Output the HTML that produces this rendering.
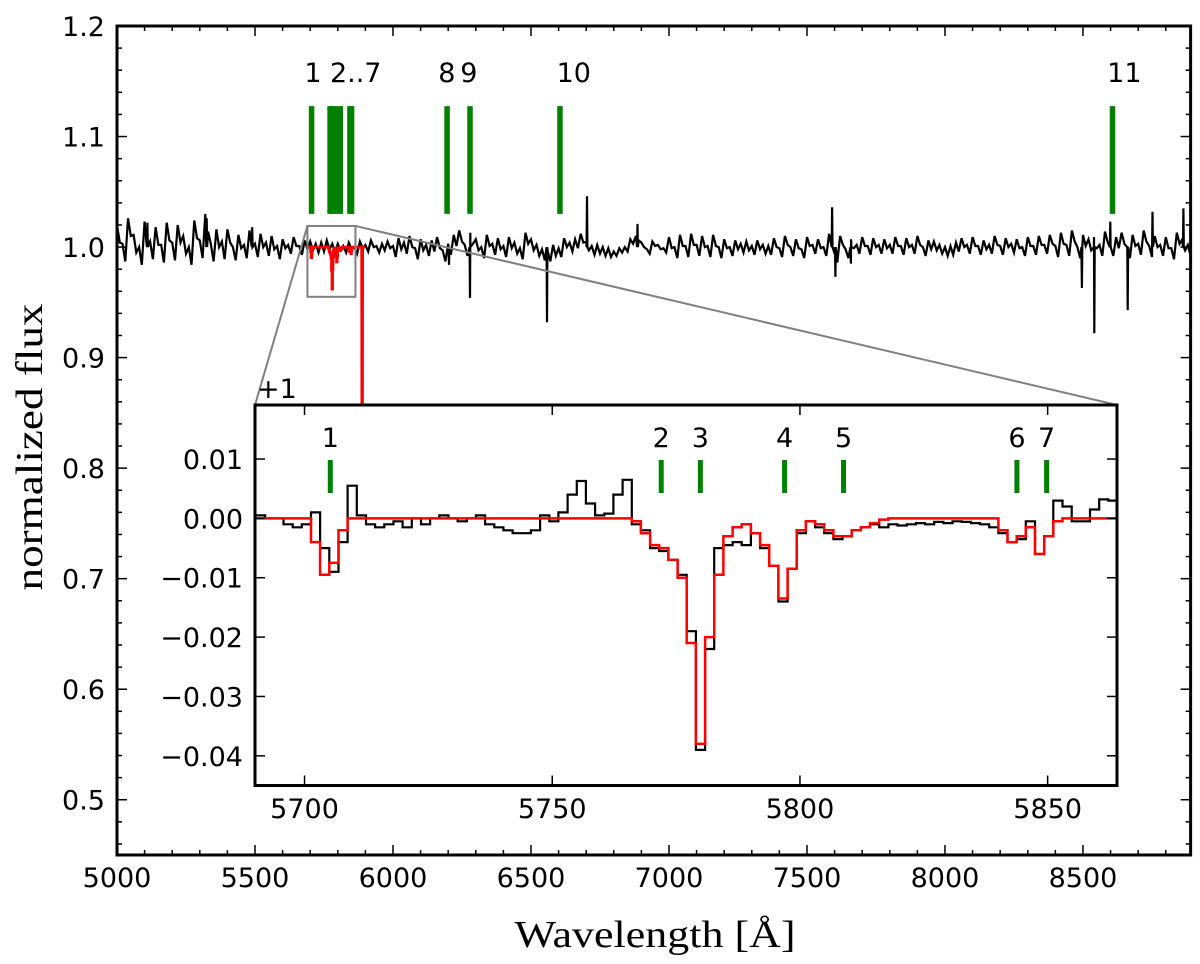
<!DOCTYPE html>
<html><head><meta charset="utf-8"><style>
html,body{margin:0;padding:0;background:#fff;overflow:hidden;}
svg{display:block;}
text{font-family:"DejaVu Sans","Liberation Sans",sans-serif;font-size:27px;fill:#000;}
text.serif{font-family:"Liberation Serif","DejaVu Serif",serif;font-size:38px;}
</style></head><body>
<svg id="chart" width="1200" height="964" viewBox="0 0 1200 964" xmlns="http://www.w3.org/2000/svg">
<defs><clipPath id="mainClip"><rect x="117" y="26" width="1073.6" height="829"/></clipPath>
<clipPath id="insetClip"><rect x="255" y="405" width="862" height="380.5"/></clipPath></defs>
<g id="main"></g>
<g id="inset"></g>
</svg>
<script>
// ---- main spectrum data (deviation from 1, in 1e-3), 20 A bins from 5000 ----
const mainStart = 5000;
const mainStep = 20;
const mainCenter = [
12,-5,18,3,-8,15,-3,10,-6,14,
-4,12,2,-8,16,-2,22,-5,8,-3,
10,-6,5,-4,9,-3,6,-2,4,-5,
3,-2,5,-3,2,1,-1,0,2,-1,
0,-2,1,-3,2,-1,3,-2,0,2,
-4,3,-1,5,-6,2,-3,1,4,-8,
-2,6,10,-3,8,2,-5,6,-2,3,
-4,4,-1,-6,8,2,-3,-7,-8,-3,
-5,4,0,3,8,1,-3,-2,-4,-5,
-6,-3,-2,5,8,2,-4,3,0,-3,
4,-5,6,-4,7,-3,5,-4,6,-5,
3,-4,2,-1,1,-3,2,-2,-3,4,
-5,6,-4,3,-6,5,-2,3,-4,8,
-10,6,-6,3,-2,5,-3,4,-2,3,
-2,5,-3,4,-2,6,-4,2,1,-2,
-4,-3,0,4,-2,5,-3,2,-2,6,
-3,4,-1,3,-4,5,-3,6,-2,7,
-4,8,-3,10,-5,6,2,4,-3,9,
-3,4,8,-5,6,-2,10,-4,5,-3,
4,-6,8,2,-3];
const mainAmpBlocks = [8,8,6,4,3,5,5,5,4,2,5,4,4,4,4,4,4,5,5,5];
const spikeLambda = [5110,5325,5490,6203,6279,6558,6703,6886,7591,7603,7659,8496,8541,8599,8662,8752,8864];
const spikeFlux =   [1.022,1.026,1.018,0.984,0.954,0.932,1.046,1.021,1.036,0.973,0.985,0.963,0.922,1.023,0.943,1.032,1.035];
// ---- model / inset data (1e-3), bins ----
const binStart = 5690.2;
const binWidth = 1.85;
const modelFlux = [0,0,0,0,0,0,-4,-9.5,-7.5,-2,
0,0,0,0,0,0,0,0,0,0,0,0,0,0,0,0,0,0,0,0,0,0,0,0,0,0,0,0,0,0,0,
-0.5,-2.5,-4.5,-5,-7,-10,-21,-38,-20,-9.5,-3,-1.5,-1,-2.5,-4.5,-8,-13.5,-8.5,-2,-0.5,-1,-2,-3,-3,-2,-1.5,-0.8,-0.2,
0,0,0,0,0,0,0,0,0,0,0,0,
-2,-4,-3,-1.5,-6,-3,-0.5,
0,0,0,0,0,0,0];
const obsFlux = [0.5,0,0,-1,-1.5,-1,1,-5,-9,-4,5.5,0.5,-1,-1.5,-1,-0.5,-1.5,0,-1,0,0.5,0,-0.5,0,0.5,-1,-1.5,-2,-2.5,-2.5,-2,0.5,-0.5,1,4,6.3,2.5,0.5,0.8,4,6.5,-1,-2,-5,-5.5,-7,-9.5,-19,-39,-22,-5,-4.5,-4,-4.5,-2.5,-5,-8,-14,-8.5,-2.5,-0.5,-1.5,-2.5,-3.5,-3,-2,-1.5,-1,-1.5,-1,-1.2,-1,-0.8,-1,-0.6,-0.8,-0.5,-0.6,-0.8,-1,-1.5,-2.5,-4,-3.5,-0.5,-6,-3,3,2,-0.5,-0.5,1.5,3.2,3,1.5];
const redTailLambda = [5866,5886.5,5887.5,5889,5890,5900];
const redTailFlux = [1.0,1.0,0.855,0.855,1.0,1.0];
// ---- line markers ----
const mainLineLambda = [5705,5772,5780,5797,5809,5844,5850,6196,6279,6605,8607];
const mainLabelText = ["1","2..7","8","9","10","11"];
const mainLabelLambda = [5710,5865,6195,6275,6655,8650];
const insetLineLambda = [5705.2,5772.0,5779.9,5796.9,5808.8,5843.8,5849.8];
const insetLabelText = ["1","2","3","4","5","6","7"];
const mainXTicks = [5000,5500,6000,6500,7000,7500,8000,8500];
const mainYTicks = [0.5,0.6,0.7,0.8,0.9,1.0,1.1,1.2];
const insetXTicks = [5700,5750,5800,5850];
const insetYTicks = [0.01,0.00,-0.01,-0.02,-0.03,-0.04];

const NS = "http://www.w3.org/2000/svg";
const MX0=117, MX1=1190.6, ML0=5000, ML1=8890, MY0=26, MY1=855, MV0=0.45, MV1=1.2;
const IX0=255, IX1=1117, IL0=5690, IL1=5864, IY0=405, IY1=785.5, IV0=-0.045, IV1=0.0191;
const mx = l => MX0+(l-ML0)/(ML1-ML0)*(MX1-MX0);
const my = v => MY1-(v-MV0)/(MV1-MV0)*(MY1-MY0);
const ix = l => IX0+(l-IL0)/(IL1-IL0)*(IX1-IX0);
const iy = v => IY1-(v-IV0)/(IV1-IV0)*(IY1-IY0);
function mk(tag, attrs, parent){const e=document.createElementNS(NS,tag);for(const k in attrs)e.setAttribute(k,attrs[k]);parent.appendChild(e);return e;}
const main=document.getElementById('main'), inset=document.getElementById('inset');

// main black spectrum
let pts=[];
mainCenter.forEach((c,i)=>{const l=mainStart+i*mainStep;const a=mainAmpBlocks[Math.floor(i/10)]||4;
 pts.push([l,1+(c+a)/1000]);pts.push([l+mainStep/2,1+(c-a)/1000]);});
spikeLambda.forEach((l,i)=>{pts.push([l-1.5,1.0]);pts.push([l,spikeFlux[i]]);pts.push([l+1.5,1.0]);});
pts.sort((a,b)=>a[0]-b[0]);
const blackMain=mk('path',{d:'M'+pts.map(p=>mx(p[0]).toFixed(1)+','+my(p[1]).toFixed(1)).join('L'),fill:'none',stroke:'#000','stroke-width':2.2,'clip-path':'url(#mainClip)'},main);



function stepPath(arr,fx,fy,off){let d='';arr.forEach((v,i)=>{const a=binStart+i*binWidth,b=a+binWidth;const y=fy(off+v/1000);
 d+=(i===0?'M':'L')+fx(a).toFixed(1)+','+y.toFixed(1)+'L'+fx(b).toFixed(1)+','+y.toFixed(1);});return d;}
let redD=stepPath(modelFlux,mx,my,1);
redTailLambda.forEach((l,i)=>{redD+='L'+mx(l).toFixed(1)+','+my(redTailFlux[i]).toFixed(1);});
const redMain=mk('path',{d:redD,fill:'none',stroke:'#f00','stroke-width':2.8,'clip-path':'url(#mainClip)'},main);



// green markers main
mainLineLambda.forEach(l=>{const g=mk('line',{x1:mx(l),x2:mx(l),y1:my(1.1275),y2:my(1.030),stroke:'#008000','stroke-width':5.5},main);
 
 });
mainLabelText.forEach((t,i)=>{const e=mk('text',{x:mx(mainLabelLambda[i]),y:82,'text-anchor':'middle'},main);e.textContent=t;
 
 });

// zoom rect + connectors
const rx0=mx(IL0),rx1=mx(IL1),ry0=my(1+IV1),ry1=my(1+IV0);
const zr=mk('rect',{x:rx0,y:ry0,width:rx1-rx0,height:ry1-ry0,fill:'none',stroke:'#808080','stroke-width':2},main);


const c1=mk('line',{x1:rx0,y1:ry0,x2:IX0,y2:IY0,stroke:'#808080','stroke-width':2},main);


const c2=mk('line',{x1:rx1,y1:ry0,x2:IX1,y2:IY0,stroke:'#808080','stroke-width':2},main);



// main axes ticks
function tick(p,x1,y1,x2,y2){mk('line',{x1,y1,x2,y2,stroke:'#000','stroke-width':1.5},p);}
for(let l=5000;l<=8890;l+=100){const x=mx(l);const L=(l%500===0)?10:5;tick(main,x,MY1,x,MY1-L);tick(main,x,MY0,x,MY0+L);}
for(let k=0;k<=37;k++){const v=0.46+k*0.02;const y=my(v);const maj=Math.abs(v*10-Math.round(v*10))<1e-6;const L=maj?10:5;tick(main,MX0,y,MX0+L,y);tick(main,MX1,y,MX1-L,y);}
mainXTicks.forEach(l=>{const e=mk('text',{x:mx(l),y:887,'text-anchor':'middle'},main);e.textContent=l;
 
 });
mainYTicks.forEach(v=>{const e=mk('text',{x:105,y:my(v)+10,'text-anchor':'end'},main);e.textContent=v.toFixed(1);
 
 });
const frame=mk('rect',{x:MX0,y:MY0,width:MX1-MX0,height:MY1-MY0,fill:'none',stroke:'#000','stroke-width':3},main);


const xl=mk('text',{x:655,y:947,'text-anchor':'middle','class':'serif',textLength:281,lengthAdjust:'spacingAndGlyphs'},main);
xl.textContent='Wavelength [Å]';


const yl=mk('text',{x:0,y:0,'text-anchor':'middle','class':'serif',textLength:287,lengthAdjust:'spacingAndGlyphs',transform:'translate(42,447) rotate(-90)'},main);
yl.textContent='normalized flux';



// ---- inset ----
const bg=mk('rect',{x:IX0,y:IY0,width:IX1-IX0,height:IY1-IY0,fill:'#fff'},inset);


const ob=mk('path',{d:stepPath(obsFlux,ix,iy,0),fill:'none',stroke:'#000','stroke-width':2.2,'clip-path':'url(#insetClip)'},inset);


const md=mk('path',{d:stepPath(modelFlux,ix,iy,0),fill:'none',stroke:'#f00','stroke-width':2.5,'clip-path':'url(#insetClip)'},inset);


insetLineLambda.forEach((l,i)=>{const g=mk('line',{x1:ix(l),x2:ix(l),y1:460,y2:493,stroke:'#008000','stroke-width':5},inset);
 
 
 const t=mk('text',{x:ix(l),y:447,'text-anchor':'middle'},inset);t.textContent=insetLabelText[i];
 
 });
insetXTicks.forEach(l=>{const x=ix(l);tick(inset,x,IY1,x,IY1-10);tick(inset,x,IY0,x,IY0+10);
 const e=mk('text',{x:x,y:818,'text-anchor':'middle'},inset);e.textContent=l;
 
 });
insetYTicks.forEach(v=>{const y=iy(v);tick(inset,IX0,y,IX0+10,y);tick(inset,IX1,y,IX1-10,y);
 const e=mk('text',{x:243,y:y+10,'text-anchor':'end'},inset);e.textContent=(v<0?'\u2212':'')+Math.abs(v).toFixed(2);
 
 });
const iframe=mk('rect',{x:IX0,y:IY0,width:IX1-IX0,height:IY1-IY0,fill:'none',stroke:'#000','stroke-width':3},inset);


const off=mk('text',{x:257,y:398},inset);off.textContent='+1';


</script>
</body></html>
